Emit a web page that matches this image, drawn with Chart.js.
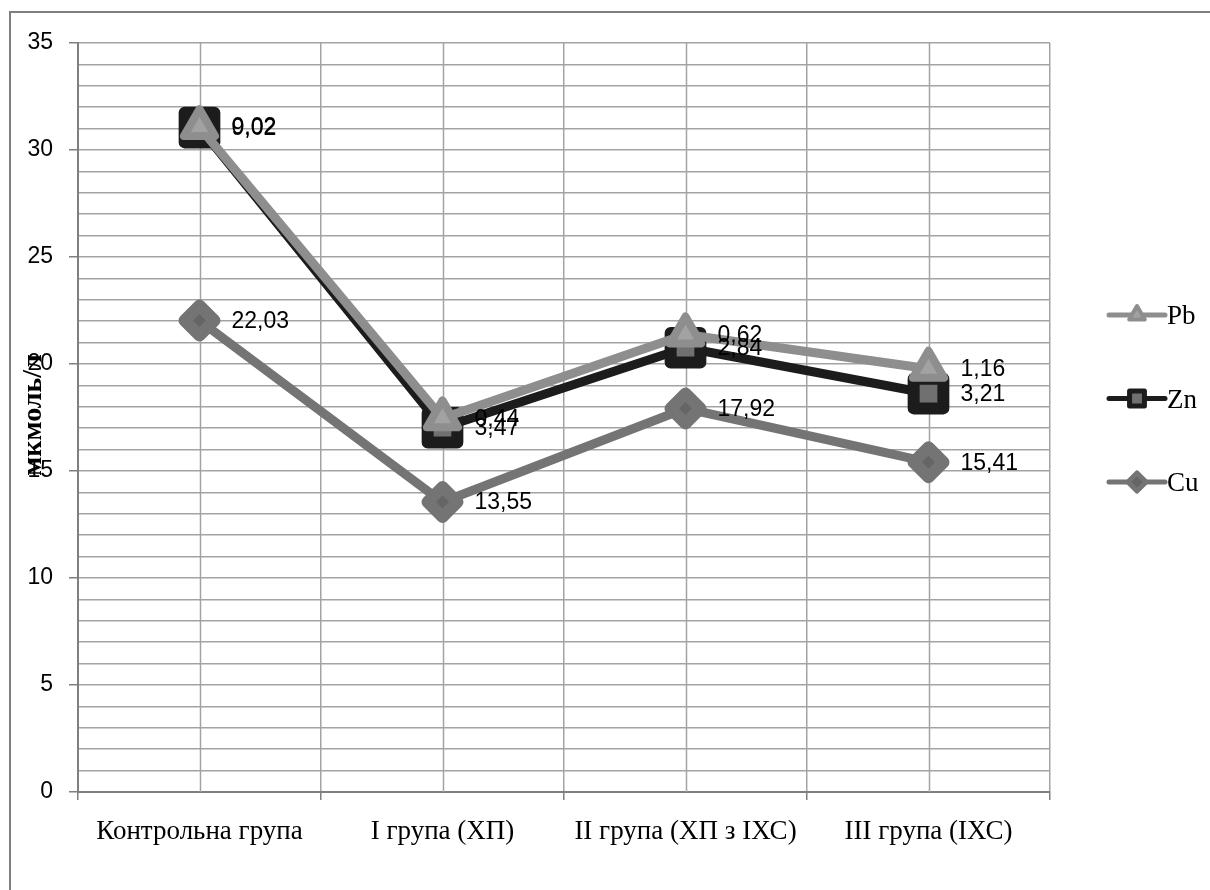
<!DOCTYPE html>
<html>
<head>
<meta charset="utf-8">
<script src="https://cdn.jsdelivr.net/npm/chart.js@4/dist/chart.umd.min.js"></script>
<style>
  html, body { margin: 0; padding: 0; background: #fff; }
  canvas { display: block; }
</style>
</head>
<body>
<canvas id="c" width="1210" height="890"></canvas>
<script>
// Group names and measured concentrations (мкмоль/л)
const categories = ['Контрольна група', 'I група (ХП)', 'II група (ХП з IХС)', 'III група (IХС)'];
const cuValues = [22.03, 13.55, 17.92, 15.41];
const znValues = [9.02, 3.47, 2.84, 3.21];
const pbValues = [0.02, 0.44, 0.62, 1.16];
const seriesNames = ['Pb', 'Zn', 'Cu'];
const axisTitle = 'мкмоль/л';
const yMin = 0, yMax = 35, yStep = 1, yLabelStep = 5;

// Series are stacked: Cu at the base, Zn on Cu, Pb on Zn
const cuLevel = cuValues.slice();
const znLevel = znValues.map((v, i) => v + cuLevel[i]);
const pbLevel = pbValues.map((v, i) => v + znLevel[i]);

const fmt = v => v.toFixed(2).replace('.', ',');

const GRID = '#a3a3a3';
const AXIS = '#7f7f7f';
const SERIF = '"Liberation Serif", "Times New Roman", serif';
const SANS = '"Liberation Sans", Arial, sans-serif';

const styles = {
  Pb: { line: '#8e8e8e', fill: '#a2a2a2', point: 'triangle', r: 18, bw: 8, lr: 9, lbw: 4 },
  Zn: { line: '#1c1c1c', fill: '#707070', point: 'rect', r: 21, bw: 12, lr: 10.5, lbw: 5 },
  Cu: { line: '#747474', fill: '#656565', point: 'rectRot', r: 15, bw: 12, lr: 9, lbw: 5 }
};

const levels = { Pb: pbLevel, Zn: znLevel, Cu: cuLevel };
const raws = { Pb: pbValues, Zn: znValues, Cu: cuValues };

const datasets = seriesNames.map(name => ({
  label: name,
  data: levels[name],
  valueLabels: raws[name],
  borderColor: styles[name].line,
  borderWidth: 9,
  borderJoinStyle: 'round',
  borderCapStyle: 'round',
  tension: 0,
  fill: false,
  pointStyle: styles[name].point,
  pointRadius: styles[name].r,
  pointHoverRadius: styles[name].r,
  pointBorderWidth: styles[name].bw,
  pointBorderColor: styles[name].line,
  pointBackgroundColor: styles[name].fill
}));

// Page frame and white background
const framePlugin = {
  id: 'frame',
  beforeDraw(chart) {
    const ctx = chart.ctx;
    ctx.save();
    ctx.fillStyle = '#fff';
    ctx.fillRect(0, 0, chart.width, chart.height);
    ctx.strokeStyle = AXIS;
    ctx.lineWidth = 2;
    ctx.beginPath();
    ctx.moveTo(10, chart.height);
    ctx.lineTo(10, 12);
    ctx.lineTo(chart.width, 12);
    ctx.stroke();
    ctx.restore();
  }
};

// Extra vertical grid lines through each category centre, round joins for markers
const seriesPlugin = {
  id: 'seriesDecor',
  beforeDatasetsDraw(chart) {
    const ctx = chart.ctx;
    const x = chart.scales.x;
    const a = chart.chartArea;
    ctx.save();
    ctx.strokeStyle = GRID;
    ctx.lineWidth = 1.5;
    categories.forEach((c, i) => {
      const px = Math.round(x.getPixelForValue(i)) + 0.5;
      ctx.beginPath();
      ctx.moveTo(px, a.top);
      ctx.lineTo(px, a.bottom);
      ctx.stroke();
    });
    ctx.restore();
    ctx.save();
    ctx.lineJoin = 'round';
    ctx.lineCap = 'round';
  },
  afterDatasetsDraw(chart) {
    const ctx = chart.ctx;
    ctx.restore();
    ctx.save();
    ctx.font = '23px ' + SANS;
    ctx.fillStyle = '#000';
    ctx.textAlign = 'left';
    ctx.textBaseline = 'middle';
    chart.data.datasets.forEach((ds, di) => {
      const meta = chart.getDatasetMeta(di);
      meta.data.forEach((pt, i) => {
        ctx.fillText(fmt(ds.valueLabels[i]), pt.x + 32, pt.y + 1);
      });
    });
    ctx.restore();
  }
};

// Axis title and the legend on the right
const sidePlugin = {
  id: 'sideDecor',
  afterDraw(chart) {
    const ctx = chart.ctx;
    ctx.save();
    ctx.translate(41, 415);
    ctx.rotate(-Math.PI / 2);
    ctx.font = 'bold 28px ' + SERIF;
    ctx.fillStyle = '#000';
    ctx.textAlign = 'center';
    ctx.textBaseline = 'alphabetic';
    ctx.fillText(axisTitle, 0, 0);
    ctx.restore();

    const lx0 = 1109, lx1 = 1165, top = 315, gap = 83.5;
    chart.data.datasets.forEach((ds, i) => {
      const st = styles[ds.label];
      const y = top + gap * i;
      ctx.save();
      ctx.lineCap = 'round';
      ctx.lineJoin = 'round';
      ctx.strokeStyle = st.line;
      ctx.lineWidth = 5;
      ctx.beginPath();
      ctx.moveTo(lx0, y);
      ctx.lineTo(lx1, y);
      ctx.stroke();
      ctx.strokeStyle = st.line;
      ctx.fillStyle = st.fill;
      ctx.lineWidth = st.lbw;
      Chart.helpers.drawPoint(ctx, { pointStyle: st.point, radius: st.lr, borderWidth: st.lbw, rotation: 0 }, (lx0 + lx1) / 2, y);
      ctx.font = '27px ' + SERIF;
      ctx.fillStyle = '#000';
      ctx.textAlign = 'left';
      ctx.textBaseline = 'middle';
      ctx.fillText(ds.label, lx1 + 2, y + 2);
      ctx.restore();
    });
  }
};

new Chart(document.getElementById('c'), {
  type: 'line',
  data: { labels: categories, datasets },
  plugins: [framePlugin, seriesPlugin, sidePlugin],
  options: {
    responsive: false,
    animation: false,
    devicePixelRatio: 1,
    layout: { padding: { left: 0, right: 160, top: 43, bottom: 0 } },
    plugins: { legend: { display: false }, tooltip: { enabled: false } },
    scales: {
      x: {
        offset: true,
        grid: { offset: true, color: GRID, lineWidth: 1.5, tickLength: 8, tickColor: AXIS, tickWidth: 1.5 },
        border: { color: AXIS, width: 2 },
        ticks: {
          color: '#000',
          padding: 16,
          maxRotation: 0,
          autoSkip: false,
          font: { family: SERIF, size: 27 }
        },
        afterFit(scale) { scale.height = 98; }
      },
      y: {
        min: yMin,
        max: yMax,
        grid: {
          color: GRID,
          lineWidth: 1.5,
          tickLength: 9,
          tickWidth: 1.5,
          tickColor: c => (c.tick && c.tick.value % yLabelStep === 0) ? AXIS : 'rgba(0,0,0,0)'
        },
        border: { color: AXIS, width: 2 },
        ticks: {
          stepSize: yStep,
          autoSkip: false,
          padding: 16,
          color: '#000',
          font: { family: SANS, size: 23 },
          callback: v => (v % yLabelStep === 0 ? String(v) : '')
        },
        afterFit(scale) { scale.width = 78; }
      }
    }
  }
});
</script>
</body>
</html>
